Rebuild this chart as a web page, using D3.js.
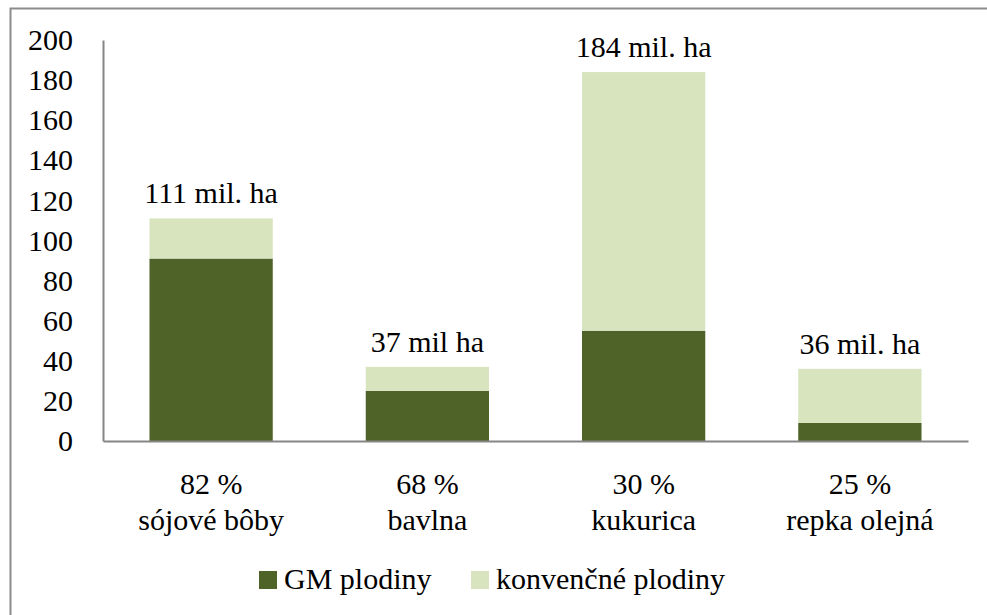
<!DOCTYPE html>
<meta charset="utf-8">
<script src="https://d3js.org/d3.v7.min.js"></script>
<style>
  body { margin: 0; background: #fff; }
</style>
<div id="chart"></div>
<script>

    // data (mil. ha)
    var crops = ["sójové bôby", "bavlna", "kukurica", "repka olejná"];
    var shares = ["82 %", "68 %", "30 %", "25 %"];
    var gm = [91, 25, 55, 9];
    var conventional = [20, 12, 129, 27];
    var totalLabels = ["111 mil. ha", "37 mil ha", "184 mil. ha", "36 mil. ha"];
    var yTicks = [0, 20, 40, 60, 80, 100, 120, 140, 160, 180, 200];
    var seriesNames = ["GM plodiny", "konvenčné plodiny"];
    var colors = ["#4f6228", "#d7e4bd"];

    var FONT = "'Liberation Serif', 'Times New Roman', Tinos, 'DejaVu Serif', serif";

    var W = 987, H = 615;
    var margin = { top: 40, right: 19, bottom: 174, left: 103 },
        width = W - margin.left - margin.right,
        height = H - margin.top - margin.bottom;

    var svg = d3.select("#chart")
        .append("svg")
        .attr("width", W)
        .attr("height", H)
        .style("font-family", FONT);

    // outer frame
    svg.append("rect")
        .attr("x", 10.5).attr("y", 8.5)
        .attr("width", W).attr("height", H)
        .attr("fill", "none")
        .attr("stroke", "#8c8c8c")
        .attr("stroke-width", 2);

    var g = svg.append("g")
        .attr("transform", "translate(" + margin.left + "," + margin.top + ")");

    var rows = crops.map(function (c, i) {
        return { crop: c, gm: gm[i], conv: conventional[i], i: i };
    });

    var x = d3.scaleBand()
        .domain(crops)
        .range([0, width])
        .paddingInner(0.43)
        .paddingOuter(0.215);

    var y = d3.scaleLinear()
        .domain([0, 200])
        .range([height, 0]);

    var layers = d3.stack().keys(["gm", "conv"])(rows);

    g.selectAll(".layer")
        .data(layers)
        .enter()
        .append("g")
        .attr("fill", function (d, i) { return colors[i]; })
        .selectAll("rect")
        .data(function (d) { return d; })
        .enter()
        .append("rect")
        .attr("x", function (d) { return x(d.data.crop); })
        .attr("width", x.bandwidth())
        .attr("y", function (d) { return y(d[1]); })
        .attr("height", function (d) { return y(d[0]) - y(d[1]); });

    // total labels above bars
    g.selectAll(".total")
        .data(rows)
        .enter()
        .append("text")
        .attr("x", function (d) { return x(d.crop) + x.bandwidth() / 2; })
        .attr("y", function (d) { return y(d.gm + d.conv) - 15; })
        .attr("text-anchor", "middle")
        .style("font-family", FONT)
        .style("font-size", "30px")
        .text(function (d) { return totalLabels[d.i]; });

    // y axis
    var yAxis = g.append("g")
        .call(d3.axisLeft(y).tickValues(yTicks).tickSize(0).tickPadding(30));
    yAxis.attr("font-family", null);
    yAxis.select(".domain").attr("stroke", "#868686").attr("stroke-width", 2);
    yAxis.selectAll("text")
        .attr("fill", "#000")
        .style("font-family", FONT)
        .style("font-size", "30px");

    // x axis
    var xAxis = g.append("g")
        .attr("transform", "translate(0," + height + ")")
        .call(d3.axisBottom(x).tickSize(0).tickFormat(""));
    xAxis.select(".domain").attr("stroke", "#868686").attr("stroke-width", 2);

    var catLabels = g.selectAll(".cat")
        .data(rows)
        .enter()
        .append("text")
        .attr("text-anchor", "middle")
        .style("font-family", FONT)
        .style("font-size", "30px")
        .attr("transform", function (d) {
            return "translate(" + (x(d.crop) + x.bandwidth() / 2) + "," + (height + 53) + ")";
        });
    catLabels.append("tspan").attr("x", 0).attr("y", 0)
        .text(function (d) { return shares[d.i]; });
    catLabels.append("tspan").attr("x", 0).attr("y", 36)
        .text(function (d) { return d.crop; });

    // legend
    var legendX = [259, 471];
    var legend = svg.selectAll(".legend")
        .data(seriesNames)
        .enter()
        .append("g")
        .attr("transform", function (d, i) { return "translate(" + legendX[i] + ",571)"; });
    legend.append("rect")
        .attr("width", 18).attr("height", 18)
        .attr("fill", function (d, i) { return colors[i]; });
    legend.append("text")
        .attr("x", 25).attr("y", 18)
        .style("font-family", FONT)
        .style("font-size", "30px")
        .text(function (d) { return d; });

</script>
